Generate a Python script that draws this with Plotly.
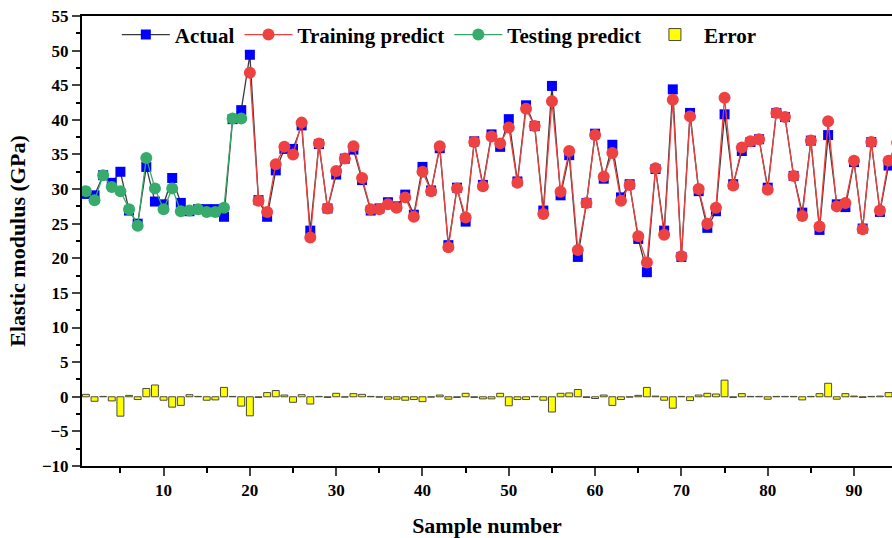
import plotly.graph_objects as go

samples = list(range(1, 96))

actual = [29.3, 29.1, 32.0, 30.9, 32.5, 26.9, 25.0, 33.2, 28.2, 27.8,
          31.6, 28.0, 26.8, 27.1, 27.1, 27.1, 26.0, 40.1, 41.4, 49.4,
          28.4, 26.0, 32.7, 35.8, 35.8, 39.2, 24.0, 36.5, 27.2, 32.1,
          34.4, 35.7, 31.3, 26.9, 27.2, 28.1, 27.5, 29.2, 26.3, 33.2,
          29.8, 35.9, 21.9, 30.2, 25.3, 36.9, 30.6, 37.9, 36.1, 40.1,
          31.1, 42.1, 39.1, 26.9, 44.9, 29.1, 34.9, 20.2, 28.0, 38.0,
          31.5, 36.4, 28.8, 30.7, 22.8, 18.0, 32.9, 24.0, 44.4, 20.2,
          41.0, 29.7, 24.4, 26.8, 40.8, 30.7, 35.5, 36.8, 37.2, 30.2,
          41.0, 40.4, 31.9, 26.6, 37.0, 24.1, 37.8, 27.8, 27.4, 33.9,
          24.3, 36.8, 26.7, 33.4, 36.5]

test_samples = list(range(1, 20))
test_pred = [29.7, 28.4, 32.0, 30.3, 29.7, 27.1, 24.7, 34.5, 30.1, 27.1,
             30.1, 26.8, 26.9, 27.1, 26.7, 26.7, 27.3, 40.2, 40.2]

train_samples = list(range(20, 96))
train_pred = [46.8, 28.3, 26.7, 33.6, 36.1, 35.0, 39.6, 23.0, 36.6, 27.2,
              32.6, 34.4, 36.2, 31.6, 27.1, 27.1, 27.8, 27.3, 28.8, 26.0,
              32.5, 29.7, 36.2, 21.6, 30.1, 25.9, 36.8, 30.4, 37.6, 36.6,
              38.9, 30.9, 41.6, 39.1, 26.4, 42.7, 29.6, 35.5, 21.2, 28.0,
              37.8, 31.8, 35.2, 28.3, 30.6, 23.2, 19.4, 33.0, 23.4, 42.9,
              20.3, 40.5, 30.0, 25.0, 27.3, 43.2, 30.5, 36.0, 36.9, 37.2,
              29.9, 41.0, 40.4, 31.9, 26.1, 37.0, 24.6, 39.8, 27.5, 28.0,
              34.1, 24.2, 36.8, 26.9, 34.1, 36.7]

error_samples = list(range(1, 95))
error = [0.35, -0.65, 0.05, -0.6, -2.8, 0.2, -0.4, 1.2, 1.7, -0.5,
         -1.5, -1.25, 0.3, 0.05, -0.5, -0.45, 1.35, 0.05, -1.35, -2.75,
         -0.1, 0.6, 0.9, 0.25, -0.8, 0.3, -1.05, 0.05, -0.1, 0.5,
         -0.05, 0.45, 0.35, 0.05, -0.05, -0.35, -0.35, -0.5, -0.4, -0.7,
         -0.05, 0.25, -0.35, -0.1, 0.5, -0.1, -0.3, -0.3, 0.5, -1.3,
         -0.4, -0.4, 0.05, -0.5, -2.2, 0.5, 0.55, 1.05, -0.1, -0.25,
         0.25, -1.25, -0.4, -0.05, 0.2, 1.35, 0.1, -0.5, -1.65, 0.05,
         -0.55, 0.25, 0.5, 0.4, 2.4, -0.1, 0.45, 0.05, 0.05, -0.35,
         0.05, 0.05, 0.05, -0.45, 0.05, 0.45, 1.95, -0.35, 0.45, 0.1,
         -0.1, 0.05, 0.1, 0.6]

FONT = "Liberation Serif"

fig = go.Figure()

fig.add_trace(go.Scatter(
    x=samples, y=actual, name="Actual", mode="lines+markers",
    line=dict(color="#3a3a3a", width=1.3),
    marker=dict(symbol="square", size=10, color="#0000FF"),
))

fig.add_trace(go.Scatter(
    x=train_samples, y=train_pred, name="Training predict", mode="lines+markers",
    line=dict(color="#EE4040", width=1.3),
    marker=dict(symbol="circle", size=12, color="#EE4242"),
))

fig.add_trace(go.Scatter(
    x=test_samples, y=test_pred, name="Testing predict", mode="lines+markers",
    line=dict(color="#35A868", width=1.3),
    marker=dict(symbol="circle", size=12, color="#37AB6B"),
))

fig.add_trace(go.Bar(
    x=error_samples, y=error, name="Error", width=0.8,
    marker=dict(color="#FFFF00", line=dict(color="#4a4a3a", width=1)),
))

fig.update_layout(
    width=892, height=538,
    margin=dict(l=82, r=0, t=16, b=72),
    plot_bgcolor="white", paper_bgcolor="white",
    font=dict(family=FONT, color="black"),
    showlegend=True,
    legend=dict(
        orientation="h", x=0.043, y=0.958, xanchor="left", yanchor="middle",
        font=dict(family=FONT, size=21, weight="bold"),
        bgcolor="rgba(0,0,0,0)", traceorder="normal",
        itemwidth=48, tracegroupgap=0,
    ),
)

fig.update_xaxes(
    range=[0.55, 94.4],
    tick0=0, dtick=10, ticks="outside", ticklen=8, tickwidth=1.5,
    minor=dict(dtick=5, ticks="outside", ticklen=5, tickwidth=1.5, tickcolor="black"),
    showline=True, linewidth=2, linecolor="black", mirror=True,
    showgrid=False, zeroline=False,
    tickfont=dict(family=FONT, size=17, weight="bold"),
    title=dict(text="Sample number", font=dict(family=FONT, size=22, weight="bold"), standoff=18),
)

fig.update_yaxes(
    range=[-10, 55],
    tick0=0, dtick=5, ticks="outside", ticklen=8, tickwidth=1.5,
    minor=dict(dtick=2.5, ticks="outside", ticklen=4, tickwidth=1.5, tickcolor="black"),
    showline=True, linewidth=2, linecolor="black", mirror=False,
    showgrid=False, zeroline=False,
    tickfont=dict(family=FONT, size=17, weight="bold"),
    title=dict(text="Elastic modulus (GPa)", font=dict(family=FONT, size=22, weight="bold"), standoff=10),
)

fig.write_html("out.html")
